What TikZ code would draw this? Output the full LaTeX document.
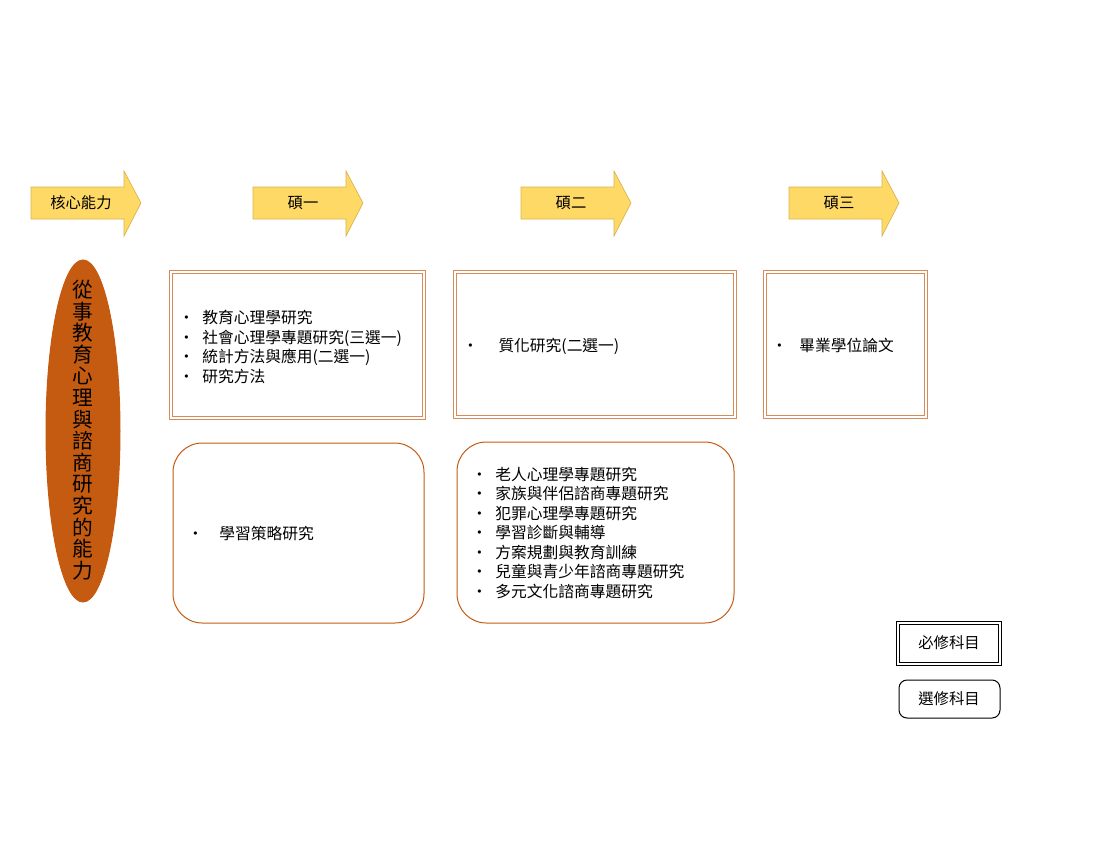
\documentclass[tikz,border=0pt]{standalone}
\usepackage{fontspec}
\setmainfont{Noto Sans CJK TC}
\tikzset{every picture/.style={line width=0.75pt}}
\definecolor{arrowfill}{RGB}{255,217,102}
\definecolor{arrowline}{RGB}{214,180,80}
\definecolor{framecol}{RGB}{197,90,17}
\newcommand{\bl}[1]{\makebox[18pt][l]{\textbullet}#1\\}
\begin{document}
\begin{tikzpicture}[x=0.75pt,y=0.75pt,yscale=-1,
  lbl/.style={font=\fontsize{11.8pt}{14.6pt}\selectfont, align=left, anchor=west, inner sep=0pt},
  hdr/.style={font=\fontsize{11.5pt}{13pt}\selectfont, inner sep=0pt}]
\useasboundingbox (0,0) rectangle (1100,850);
%Arrows
\foreach \x/\t [count=\i] in {31/核心能力,253/碩一,521/碩二,789/碩三}{
  \draw [arrowline, fill=arrowfill, line width=0.5pt] (\x,187) -- (\x+93,187) -- (\x+93,171) -- (\x+110,203) -- (\x+93,236) -- (\x+93,219) -- (\x,219) -- cycle ;
  \node [hdr] (head\i) at (\x+50,203) {\t};
}
%Ellipse
\draw [framecol, fill=framecol] (83,431) ellipse (37 and 171);
\node [font=\fontsize{15.5pt}{16.2pt}\selectfont, align=center, inner sep=0pt] (core) at (83,430)
  {從\\事\\教\\育\\心\\理\\與\\諮\\商\\研\\究\\的\\能\\力};
%Required courses
\draw [framecol!70, double=white, double distance=2pt] (171,272) rectangle (424,418);
\draw [framecol!70, double=white, double distance=2pt] (455,272) rectangle (735,417);
\draw [framecol!70, double=white, double distance=2pt] (765,272) rectangle (926,417);
\node [lbl] (req1) at (178,356) {\bl{教育心理學研究}\bl{社會心理學專題研究(三選一)}\bl{統計方法與應用(二選一)}\bl{研究方法}};
\node [lbl] (req2) at (462,346) {\makebox[27pt][l]{\textbullet}質化研究(二選一)};
\node [lbl] (req3) at (771,345) {\makebox[21pt][l]{\textbullet}畢業學位論文};
%Elective courses
\draw [framecol, rounded corners=22pt] (173,443) rectangle (424,623);
\draw [framecol, rounded corners=22pt] (457,442) rectangle (734,623);
\node [lbl] (ele1) at (187,533) {\makebox[24pt][l]{\textbullet}學習策略研究};
\node [lbl] (ele2) at (471,542) {\bl{老人心理學專題研究}\bl{家族與伴侶諮商專題研究}\bl{犯罪心理學專題研究}\bl{學習診斷與輔導}\bl{方案規劃與教育訓練}\bl{兒童與青少年諮商專題研究}\bl{多元文化諮商專題研究}};
%Legend
\draw [double=white, double distance=2pt] (898,623) rectangle (1000,664);
\node [hdr] (legreq) at (949,643) {必修科目};
\draw [rounded corners=6pt] (899,680) rectangle (1000,718);
\node [hdr] (legele) at (949,699) {選修科目};
\end{tikzpicture}
\end{document}
